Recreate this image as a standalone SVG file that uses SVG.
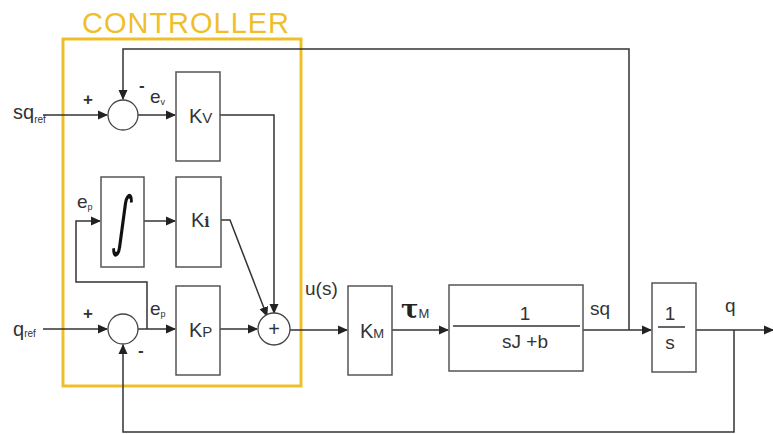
<svg xmlns="http://www.w3.org/2000/svg" width="773" height="434" viewBox="0 0 773 434">
<defs>
<style>
.ln{fill:none;stroke:#333;stroke-width:1.5;}
.bx{fill:#fff;stroke:#555;stroke-width:1.5;}
.sj{fill:#fff;stroke:#444;stroke-width:1.3;}
.t{font-family:"Liberation Sans",Arial,sans-serif;fill:#333;}
.ctl{fill:none;stroke:#EFBF2A;stroke-width:3;}
</style>
<marker id="ah" markerWidth="10" markerHeight="10" refX="9" refY="5" orient="auto" markerUnits="userSpaceOnUse">
<path d="M0,0.5 L10,5 L0,9.5 Z" fill="#222"/>
</marker>
</defs>
<rect width="773" height="434" fill="#fff"/>

<g id="controller">
<rect class="ctl" x="63" y="39" width="238" height="347"/>
<text class="t" x="82" y="33" font-size="29" textLength="207" style="fill:#EFBF2A">CONTROLLER</text>
</g>

<g id="connectors">
<path class="ln" d="M43,115 L107,115" marker-end="url(#ah)"/>
<path class="ln" d="M629,330 L629,49 L123,49 L123,99" marker-end="url(#ah)"/>
<path class="ln" d="M138,115 L175,115" marker-end="url(#ah)"/>
<path class="ln" d="M220,115 L274,115 L274,313" marker-end="url(#ah)"/>
<path class="ln" d="M144,221 L175,221" marker-end="url(#ah)"/>
<path class="ln" d="M147,329 L147,282 L76,282 L76,221 L100,221" marker-end="url(#ah)"/>
<path class="ln" d="M138,329 L175,329" marker-end="url(#ah)"/>
<path class="ln" d="M221,220 L230,220 L267,316" marker-end="url(#ah)"/>
<path class="ln" d="M43,329 L107,329" marker-end="url(#ah)"/>
<path class="ln" d="M220,329 L257,329" marker-end="url(#ah)"/>
<path class="ln" d="M290,330 L347,330" marker-end="url(#ah)"/>
<path class="ln" d="M392,330 L448,330" marker-end="url(#ah)"/>
<path class="ln" d="M583,330 L651,330" marker-end="url(#ah)"/>
<path class="ln" d="M696,330 L773,330" marker-end="url(#ah)"/>
<path class="ln" d="M734,330 L734,432 L123,432 L123,345" marker-end="url(#ah)"/>
</g>

<g id="sum_v">
<circle class="sj" cx="123" cy="115" r="15"/>
<text class="t" x="83" y="105" font-size="17" font-weight="bold">+</text>
<text class="t" x="139" y="91" font-size="17" font-weight="bold">-</text>
</g>

<g id="sum_p">
<circle class="sj" cx="123" cy="329" r="15"/>
<text class="t" x="83" y="319" font-size="17" font-weight="bold">+</text>
<text class="t" x="138" y="356" font-size="17" font-weight="bold">-</text>
</g>

<g id="sum_u">
<circle class="sj" cx="274" cy="329" r="16"/>
<text class="t" x="274" y="336" font-size="20" text-anchor="middle">+</text>
</g>

<g id="labels_in">
<text class="t" x="13" y="119" font-size="20">sq<tspan font-size="10" dy="4">ref</tspan></text>
<text class="t" x="13" y="336" font-size="20">q<tspan font-size="10" dy="1">ref</tspan></text>
<text class="t" x="150" y="103" font-size="19">e<tspan font-size="9" dy="2">v</tspan></text>
<text class="t" x="77" y="208" font-size="19">e<tspan font-size="9" dy="2">p</tspan></text>
<text class="t" x="150" y="315" font-size="19">e<tspan font-size="9" dy="2">p</tspan></text>
</g>

<g id="Kv">
<rect class="bx" x="176" y="72" width="44" height="89"/>
<text class="t" x="189" y="123" font-size="20">K<tspan font-size="15">V</tspan></text>
</g>

<g id="integrator">
<rect class="bx" x="101" y="177" width="43" height="90"/>
<text transform="translate(123,222) scale(0.75,1.25) skewX(-10)" x="0" y="17" font-size="52" text-anchor="middle" font-family="'DejaVu Sans',sans-serif" fill="#111">∫</text>
</g>

<g id="Ki">
<rect class="bx" x="176" y="177" width="45" height="90"/>
<text class="t" x="191" y="227" font-size="20">K<tspan font-size="14" font-weight="bold" font-family="'DejaVu Serif',serif">i</tspan></text>
</g>

<g id="Kp">
<rect class="bx" x="176" y="286" width="44" height="89"/>
<text class="t" x="189" y="337" font-size="20">K<tspan font-size="15">P</tspan></text>
</g>

<g id="Km">
<rect class="bx" x="348" y="286" width="44" height="89"/>
<text class="t" x="360" y="338" font-size="20">K<tspan font-size="13">M</tspan></text>
<text class="t" x="305" y="295" font-size="19">u(s)</text>
</g>

<g id="plant">
<rect class="bx" x="449" y="285" width="134" height="86"/>
<line class="ln" x1="453" y1="326" x2="580" y2="326"/>
<text class="t" x="525" y="320" font-size="19" text-anchor="middle">1</text>
<text class="t" x="525" y="348" font-size="19" text-anchor="middle">sJ +b</text>
<text x="401" y="318" font-size="26" font-weight="bold" font-family="'DejaVu Serif',serif" fill="#222">τ<tspan class="t" font-size="13" font-weight="normal" font-family="'Liberation Sans',sans-serif" fill="#333">M</tspan></text>
<text class="t" x="590" y="315" font-size="19">sq</text>
</g>

<g id="integ2">
<rect class="bx" x="652" y="283" width="44" height="89"/>
<line class="ln" x1="658" y1="327" x2="685" y2="327"/>
<text class="t" x="670" y="320" font-size="19" text-anchor="middle">1</text>
<text class="t" x="670" y="349" font-size="19" text-anchor="middle">s</text>
<text class="t" x="725" y="312" font-size="19">q</text>
</g>
</svg>
